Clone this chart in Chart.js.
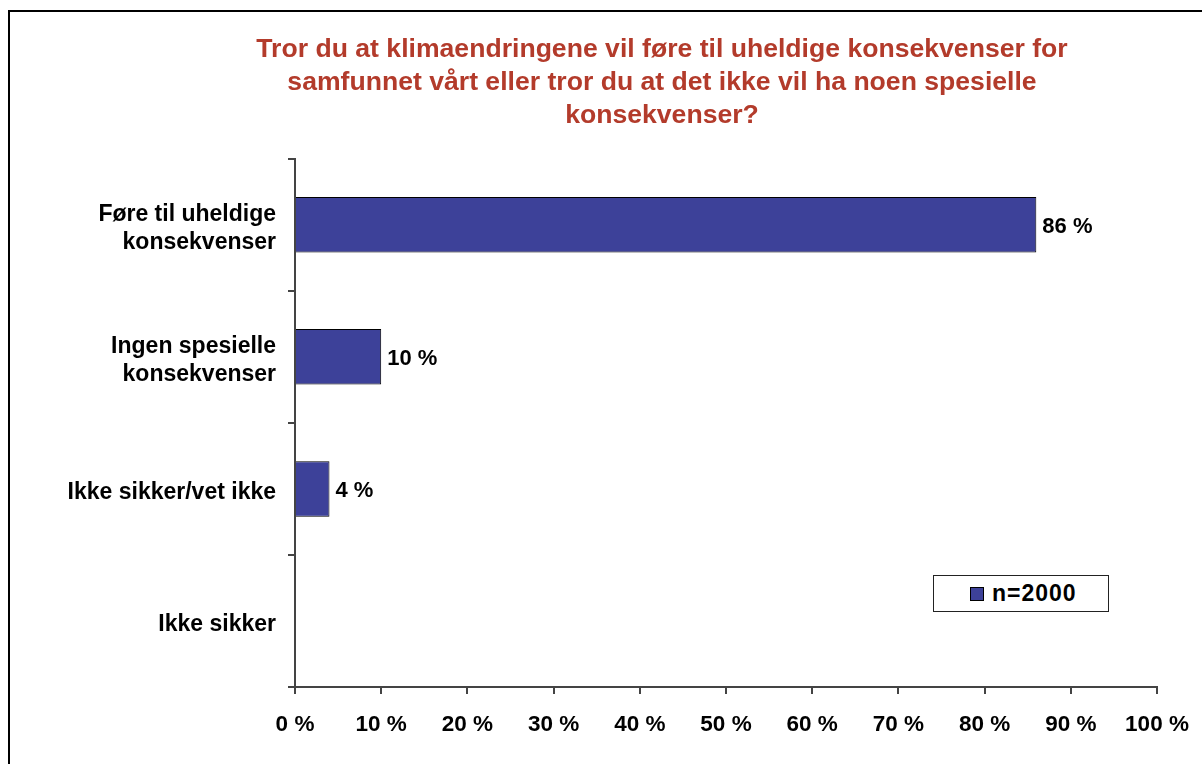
<!DOCTYPE html>
<html>
<head>
<meta charset="utf-8">
<script src="https://cdn.jsdelivr.net/npm/chart.js@4.4.1/dist/chart.umd.min.js"></script>
<style>
  html, body { margin: 0; padding: 0; background: #fff; }
  #wrap { position: relative; width: 1202px; height: 764px; overflow: hidden; }
  #frame { position: absolute; left: 8px; top: 10px; width: 1300px; height: 900px; border: 2px solid #000; }
  #chart { position: absolute; left: 0; top: 0; }
  #legend {
    position: absolute; left: 933px; top: 575px; width: 174px; height: 35px;
    border: 1px solid #222; background: #fff;
    font: bold 23px "Liberation Sans", Arial, sans-serif; letter-spacing: 1px; color: #000;
    display: flex; align-items: center;
  }
  #legend .box { width: 12px; height: 12px; border: 1px solid #000; margin: 0 8px 0 36px; }
</style>
</head>
<body>
<div id="wrap">
  <div id="frame"></div>
  <!-- canvas is wider than the window so the title centres where the original does -->
  <canvas id="chart" width="1304" height="764"></canvas>
  <div id="legend"></div>
</div>
<script>
// data
const categories = [
  ['Føre til uheldige', 'konsekvenser'],
  ['Ingen spesielle', 'konsekvenser'],
  'Ikke sikker/vet ikke',
  'Ikke sikker'
];
const values = [86, 10, 4, null];
const seriesName = 'n=2000';
const titleLines = [
  'Tror du at klimaendringene vil føre til uheldige konsekvenser for',
  'samfunnet vårt eller tror du at det ikke vil ha noen spesielle',
  'konsekvenser?'
];

const barColor = '#3d4199';
const axisColor = '#444';
const fontFamily = '"Liberation Sans", Arial, sans-serif';

// value labels at the bar ends
const valueLabels = {
  id: 'valueLabels',
  afterDatasetsDraw(chart) {
    const ctx = chart.ctx;
    const meta = chart.getDatasetMeta(0);
    ctx.save();
    ctx.font = 'bold 22px ' + fontFamily;
    ctx.fillStyle = '#000';
    ctx.textAlign = 'left';
    ctx.textBaseline = 'middle';
    meta.data.forEach((bar, i) => {
      if (values[i] == null) return;
      ctx.fillText(values[i] + ' %', bar.x + 6, bar.y + 2);
    });
    ctx.restore();
  }
};

const chart = new Chart(document.getElementById('chart'), {
  type: 'bar',
  data: {
    labels: categories,
    datasets: [{
      label: seriesName,
      data: values,
      backgroundColor: barColor,
      borderColor: '#000',
      borderWidth: 1,
      barPercentage: 0.42,
      categoryPercentage: 1
    }]
  },
  options: {
    indexAxis: 'y',
    responsive: false,
    animation: false,
    layout: { padding: { left: 20, right: 0, top: 0, bottom: 0 } },
    plugins: {
      legend: { display: false },
      tooltip: { enabled: false },
      title: {
        display: true,
        text: titleLines,
        color: '#b33b2b',
        font: { family: fontFamily, size: 26.6, weight: 'bold', lineHeight: 1.25 },
        padding: { top: 33, bottom: 26 }
      }
    },
    scales: {
      x: {
        min: 0,
        max: 100,
        ticks: {
          stepSize: 10,
          color: '#000',
          padding: 17,
          maxRotation: 0,
          font: { family: fontFamily, size: 22.5, weight: 'bold' },
          callback: v => v + ' %'
        },
        grid: { drawOnChartArea: false, color: axisColor, lineWidth: 2, tickLength: 7 },
        border: { color: axisColor, width: 2 },
        afterFit: s => {
          s.height = 764 - 687;
          s.paddingRight = 1304 - 1157;
        }
      },
      y: {
        ticks: {
          color: '#000',
          padding: 12,
          labelOffset: 4,
          font: { family: fontFamily, size: 23, weight: 'bold', lineHeight: 1.22 }
        },
        grid: { drawOnChartArea: false, color: axisColor, lineWidth: 2, tickLength: 7 },
        border: { color: axisColor, width: 2 },
        afterFit: s => { s.width = 295 - 20; }
      }
    }
  },
  plugins: [valueLabels]
});

// legend box, built from the dataset
const legend = document.getElementById('legend');
legend.innerHTML = '<span class="box" style="background:' + barColor + '"></span><span>' +
  chart.data.datasets[0].label + '</span>';
</script>
</body>
</html>
